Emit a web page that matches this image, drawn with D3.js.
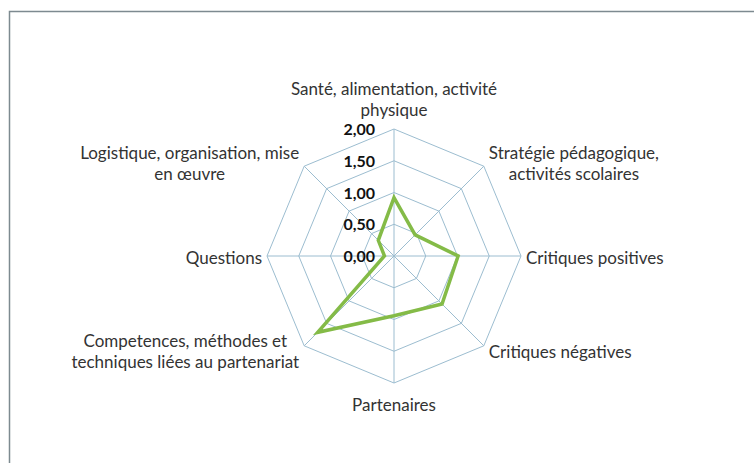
<!DOCTYPE html>
<html>
<head>
<meta charset="utf-8">
<style>
  body { margin: 0; background: #fff; }
  svg { display: block; font-family: Lato, "Open Sans", Arial, sans-serif; }
  .lbl { font-size: 17px; fill: #333; }
  .tick { font-size: 16px; font-weight: bold; fill: #111; }
</style>
</head>
<body>
<svg width="754" height="463"></svg>
<script src="https://d3js.org/d3.v7.min.js"></script>
<script>
// axes clockwise from top
let categories = [
  ["Santé, alimentation, activité", "physique"],
  ["Stratégie pédagogique,", "activités scolaires"],
  ["Critiques positives"],
  ["Critiques négatives"],
  ["Partenaires"],
  ["Competences, méthodes et", "techniques liées au partenariat"],
  ["Questions"],
  ["Logistique, organisation, mise", "en œuvre"]
]
let values = [0.92, 0.47, 1.01, 1.07, 0.94, 1.70, 0.15, 0.35]
let ticks = [0, 0.5, 1, 1.5, 2]

let svg = d3.select("svg")
let cx = 394, cy = 256, R = 127

// chart frame
svg.append("rect")
  .attr("x", 9.5).attr("y", 11.5)
  .attr("width", 760).attr("height", 470)
  .attr("fill", "none").attr("stroke", "#7d8a90").attr("stroke-width", 1.5)

let r = d3.scaleLinear().domain([0, 2]).range([0, R])
let n = categories.length
let angle = i => i * 2 * Math.PI / n
let pt = (i, v) => [cx + r(v) * Math.sin(angle(i)), cy - r(v) * Math.cos(angle(i))]

let g = svg.append("g")

// grid octagons
g.selectAll(".ring")
  .data(ticks.filter(t => t > 0))
  .join("polygon")
  .attr("points", t => d3.range(n).map(i => pt(i, t).join(",")).join(" "))
  .attr("fill", "none")
  .attr("stroke", "#9cbdd0")
  .attr("stroke-width", 1)

// spokes
g.selectAll(".spoke")
  .data(d3.range(n))
  .join("line")
  .attr("x1", cx).attr("y1", cy)
  .attr("x2", i => pt(i, 2)[0]).attr("y2", i => pt(i, 2)[1])
  .attr("stroke", "#9cbdd0")
  .attr("stroke-width", 1)

// data line
let line = d3.line().curve(d3.curveLinearClosed)
g.append("path")
  .attr("d", line(values.map((v, i) => pt(i, v))))
  .attr("fill", "none")
  .attr("stroke", "#84bb47")
  .attr("stroke-width", 3.5)
  .attr("stroke-linejoin", "miter")

// tick labels
let fmt = d3.format(".2f")
g.selectAll(".tick")
  .data(ticks)
  .join("text")
  .attr("class", "tick")
  .attr("x", cx - 19)
  .attr("y", t => cy - r(t) + 6)
  .attr("text-anchor", "end")
  .text(t => fmt(t).replace(".", ","))

// category labels
let lh = 21
categories.forEach((lines, i) => {
  let lab = svg.append("text").attr("class", "lbl").attr("text-anchor", "middle")
  lines.forEach((s, k) => lab.append("tspan").attr("x", 0).attr("y", k * lh).text(s))
  let bb = lab.node().getBBox()
  let [vx, vy] = pt(i, 2)
  let s = Math.sin(angle(i)), c = Math.cos(angle(i))
  let tx, ty
  let blockH = bb.height
  if (Math.abs(s) < 0.01) {
    tx = vx
    ty = c > 0 ? vy - 9 - blockH : vy + 11
  } else {
    tx = s > 0 ? vx + 5 + bb.width / 2 : vx - 5 - bb.width / 2
    ty = vy - blockH / 2 + 1 - c * 6
  }
  lab.attr("transform", `translate(${tx},${ty - bb.y})`)
})
</script>
</body>
</html>
